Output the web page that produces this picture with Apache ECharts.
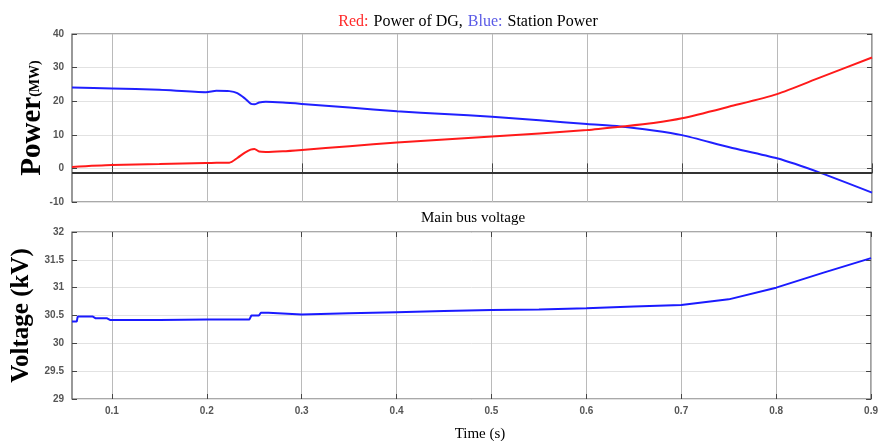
<!DOCTYPE html>
<html>
<head>
<meta charset="utf-8">
<script src="https://cdn.jsdelivr.net/npm/echarts@6/dist/echarts.min.js"></script>
<style>
html,body{margin:0;padding:0;background:#fff;}
#c{width:881px;height:441px;}
</style>
</head>
<body>
<div id="c"></div>
<script>
// ---- data ----
const xTicks = [0.1, 0.2, 0.3, 0.4, 0.5, 0.6, 0.7, 0.8, 0.9];
const powerTicks = [-10, 0, 10, 20, 30, 40];
const voltTicks = [29, 29.5, 30, 30.5, 31, 31.5, 32];

const powerTime    = [0.058, 0.1, 0.15, 0.199, 0.21, 0.2236, 0.232, 0.24, 0.246, 0.25, 0.255, 0.262, 0.28, 0.3, 0.35, 0.4, 0.45, 0.5, 0.55, 0.6, 0.635, 0.67, 0.7, 0.75, 0.8, 0.845, 0.9];
const stationPower = [24.1, 23.8, 23.4, 22.7, 23.1, 23.0, 22.4, 20.8, 19.3, 19.1, 19.6, 19.8, 19.6, 19.2, 18.1, 17.0, 16.2, 15.4, 14.3, 13.2, 12.5, 11.3, 9.9, 6.3, 3.0, -1.25, -7.2];
const dgPower      = [0.45, 1.0, 1.3, 1.6, 1.65, 1.7, 3.1, 4.7, 5.6, 5.8, 5.0, 4.9, 5.1, 5.5, 6.6, 7.7, 8.6, 9.5, 10.4, 11.4, 12.4, 13.5, 14.9, 18.4, 22.1, 27.0, 33.0];
const referenceLevel = -1.3;

const voltTime   = [0.058, 0.063, 0.064, 0.08, 0.083, 0.095, 0.098, 0.15, 0.2, 0.245, 0.247, 0.255, 0.257, 0.265, 0.267, 0.3, 0.35, 0.4, 0.45, 0.5, 0.55, 0.6, 0.65, 0.7, 0.75, 0.8, 0.85, 0.9];
const busVoltage = [30.39, 30.39, 30.48, 30.48, 30.45, 30.45, 30.42, 30.42, 30.43, 30.43, 30.50, 30.50, 30.55, 30.55, 30.52, 30.52, 30.54, 30.56, 30.58, 30.60, 30.61, 30.63, 30.66, 30.69, 30.79, 31.00, 31.27, 31.53];

const xMin = 0.058, xMax = 0.9;

const pairs = (xs, ys) => xs.map((x, i) => [x, ys[i]]);

const tickFont = {color: '#555', fontSize: 10, fontWeight: 'bold', fontFamily: 'Liberation Sans'};
const serif = 'Liberation Serif';

function xAxisDef(grid, pos, labels) {
  return {
    type: 'value', gridIndex: grid, position: pos, min: xMin, max: xMax,
    axisLine: {show: false},
    axisTick: {show: true, inside: true, length: 5, customValues: xTicks, lineStyle: {color: '#444'}},
    axisLabel: {show: labels, customValues: xTicks, margin: 7, ...tickFont},
    splitLine: {show: pos === 'bottom', lineStyle: {color: '#bababa', width: 1}}
  };
}
function yAxisDef(grid, pos, mn, mx, iv, labels, name) {
  const d = {
    type: 'value', gridIndex: grid, position: pos, min: mn, max: mx, interval: iv,
    axisLine: {show: false},
    axisTick: {show: true, inside: true, length: 5, lineStyle: {color: '#444'}},
    axisLabel: {show: labels, margin: 8, ...tickFont},
    splitLine: {show: pos === 'left', lineStyle: {color: '#e2e2e2', width: 1}}
  };
  if (name) Object.assign(d, name);
  return d;
}

const chart = echarts.init(document.getElementById('c'), null, {renderer: 'canvas'});
chart.setOption({
  backgroundColor: '#fff',
  animation: false,
  title: [
    {text: '{r|Red:} {k|Power of DG,} {b|Blue:} {k|Station Power}', left: 463, top: 8, textAlign: 'center',
     textStyle: {fontWeight: 'normal', rich: {
       r: {color: '#ff2a2a', fontSize: 16, fontWeight: 'normal', fontFamily: serif},
       b: {color: '#5a5ae6', fontSize: 16, fontWeight: 'normal', fontFamily: serif},
       k: {color: '#000', fontSize: 16, fontWeight: 'normal', fontFamily: serif}}}},
    {text: 'Main bus voltage', left: 468, top: 206, textAlign: 'center',
     textStyle: {color: '#000', fontSize: 15, fontWeight: 'normal', fontFamily: serif}},
    {text: 'Time (s)', left: 475, top: 422, textAlign: 'center',
     textStyle: {color: '#000', fontSize: 15, fontWeight: 'normal', fontFamily: serif}}
  ],
  grid: [
    {left: 72, right: 9, top: 34, height: 168, show: true, borderColor: '#555', borderWidth: 1.2},
    {left: 72, right: 9, top: 232, height: 167, show: true, borderColor: '#555', borderWidth: 1.2}
  ],
  xAxis: [
    xAxisDef(0, 'bottom', false),
    xAxisDef(0, 'top', false),
    xAxisDef(1, 'bottom', true),
    xAxisDef(1, 'top', false)
  ],
  yAxis: [
    yAxisDef(0, 'left', -10, 40, 10, true, {
      name: '{p|Power}{m|(MW)}', nameLocation: 'middle', nameGap: 25, nameRotate: 90, nameMoveOverlap: false,
      nameTextStyle: {rich: {
        p: {fontSize: 29, fontWeight: 'bold', fontFamily: serif, color: '#000'},
        m: {fontSize: 14, fontWeight: 'bold', fontFamily: serif, color: '#000', padding: [6, 0, 0, 0]}}}
    }),
    yAxisDef(0, 'right', -10, 40, 10, false),
    yAxisDef(1, 'left', 29, 32, 0.5, true, {
      name: 'Voltage (kV)', nameLocation: 'middle', nameGap: 38, nameRotate: 90, nameMoveOverlap: false,
      nameTextStyle: {fontSize: 25, fontWeight: 'bold', fontFamily: serif, color: '#000'}
    }),
    yAxisDef(1, 'right', 29, 32, 0.5, false)
  ],
  series: [
    {type: 'line', name: 'Station Power', xAxisIndex: 0, yAxisIndex: 0, data: pairs(powerTime, stationPower),
     showSymbol: false, smooth: 0.25, lineStyle: {color: '#2020ff', width: 2},
     markLine: {silent: true, symbol: 'none', label: {show: false},
       lineStyle: {color: '#333', width: 2, type: 'solid'}, data: [{yAxis: referenceLevel}]}},
    {type: 'line', name: 'Power of DG', xAxisIndex: 0, yAxisIndex: 0, data: pairs(powerTime, dgPower),
     showSymbol: false, smooth: 0.25, lineStyle: {color: '#ff1a1a', width: 2}},
    {type: 'line', name: 'Main bus voltage', xAxisIndex: 2, yAxisIndex: 2, data: pairs(voltTime, busVoltage),
     showSymbol: false, lineStyle: {color: '#1a1aff', width: 2}}
  ]
});
</script>
</body>
</html>
